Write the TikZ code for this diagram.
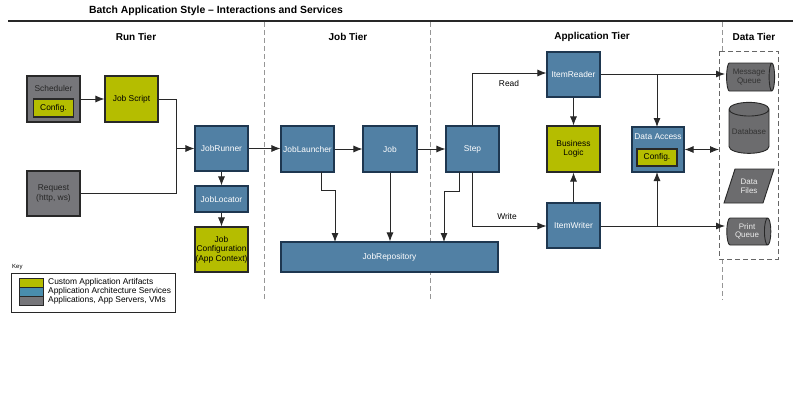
\documentclass[tikz,border=0pt]{standalone}
\usepackage{fontspec}
\setmainfont{Liberation Sans}
\usetikzlibrary{arrows.meta,shapes.geometric}
\definecolor{cblue}{RGB}{81,128,164}
\definecolor{cblueb}{RGB}{30,55,80}
\definecolor{cgreen}{RGB}{181,189,0}
\definecolor{cgray}{RGB}{118,118,122}
\definecolor{dgray}{RGB}{108,108,110}
\definecolor{cline}{RGB}{40,40,40}
\definecolor{cdash}{RGB}{150,150,150}
\tikzset{
  box/.style={draw=cline, line width=1.1pt, inner sep=0pt, align=center, font=\fontsize{8.4}{9.4}\selectfont},
  bluebox/.style={box, fill=cblue, draw=cblueb, text=white},
  greenbox/.style={box, fill=cgreen},
  graybox/.style={box, fill=cgray, text=black!85},
  conn/.style={draw=cline, line width=0.9pt},
  arr/.style={conn, -{Latex[length=9pt,width=7pt]}},
  darr/.style={conn, {Latex[length=9pt,width=7pt]}-{Latex[length=9pt,width=7pt]}},
  tierline/.style={draw=cdash, line width=0.9pt, dash pattern=on 5pt off 3pt},
  header/.style={font=\fontsize{10}{12}\selectfont\bfseries},
  lbl/.style={font=\fontsize{8.4}{9.4}\selectfont, inner sep=0pt},
  datashape/.style={draw=cline, line width=0.9pt, fill=dgray, inner sep=0pt, align=center, font=\fontsize{8}{8.6}\selectfont},
}
\begin{document}
\begin{tikzpicture}[x=1pt,y=-1pt]
\useasboundingbox (0,0) rectangle (800,413);
\fill[white] (0,0) rectangle (800,413);
% title and frame lines
\node[font=\fontsize{10.4}{12}\selectfont\bfseries] (title) at (216,11) {Batch Application Style -- Interactions and Services};
\draw[cline, line width=1.6pt] (8,21) -- (793,21);
\draw[tierline] (264.5,22) -- (264.5,300);
\draw[tierline] (430,22) -- (430,300);
\draw[tierline] (722.5,22) -- (722.5,51);
\draw[tierline] (722.5,259) -- (722.5,300);
\node[header] (hrun) at (136,37) {Run Tier};
\node[header] (hjob) at (348,37) {Job Tier};
\node[header] (happ) at (592,37) {Application Tier};
\node[header] (hdata) at (754,37) {Data Tier};

% Run tier
\node[graybox, minimum width=53pt, minimum height=46pt] (sched) at (53.5,99) {};
\node[lbl, text=black!85] (schedlbl) at (53.5,88) {Scheduler};
\node[greenbox, minimum width=40pt, minimum height=18pt] (schedcfg) at (53.5,108) {Config.};
\node[greenbox, minimum width=53pt, minimum height=46pt] (jobscript) at (131.5,99) {Job Script};
\node[graybox, minimum width=53pt, minimum height=45pt] (request) at (53.5,193.5) {Request\\(http, ws)};
\node[bluebox, minimum width=53pt, minimum height=45pt] (jobrunner) at (221.5,148.5) {JobRunner};
\node[bluebox, minimum width=53pt, minimum height=26pt] (joblocator) at (221.5,199) {JobLocator};
\node[greenbox, minimum width=53pt, minimum height=45pt] (jobconfig) at (221.5,249.5) {Job\\Configuration\\(App Context)};

% Job tier
\node[bluebox, minimum width=53pt, minimum height=46pt] (launcher) at (307.5,149) {JobLauncher};
\node[bluebox, minimum width=54pt, minimum height=46pt] (job) at (390,149) {Job};
\node[bluebox, minimum width=53pt, minimum height=46pt] (step) at (472.5,149) {Step};
\node[bluebox, minimum width=217pt, minimum height=30pt] (repo) at (389.5,257) {JobRepository};

% Application tier
\node[bluebox, minimum width=53pt, minimum height=45pt] (reader) at (573.5,74.5) {ItemReader};
\node[greenbox, minimum width=53pt, minimum height=46pt] (logic) at (573.5,149) {Business\\Logic};
\node[bluebox, minimum width=53pt, minimum height=45pt] (writer) at (573.5,225.5) {ItemWriter};
\node[bluebox, minimum width=52pt, minimum height=45pt] (dataacc) at (658,149.5) {};
\node[lbl, text=white] (dataacclbl) at (658,137) {Data Access};
\node[greenbox, minimum width=40pt, minimum height=17pt] (dacfg) at (657,157.5) {Config.};

% Data tier
\draw[draw=black!60, line width=0.9pt, dash pattern=on 5pt off 3pt] (719,51) rectangle (778,259);
\node[datashape, cylinder, shape aspect=0.35, minimum height=48pt, minimum width=28pt, text=black!80] (mq) at (749,77) {Message\\Queue};
\node[datashape, cylinder, shape border rotate=90, shape aspect=0.4, minimum height=51pt, minimum width=40pt, text=black!80] (db) at (749,131.5) {Database};
\draw[cline, line width=0.9pt, fill=dgray] (735,169) -- (774,169) -- (763,203) -- (724,203) -- cycle;
\node[lbl, align=center, font=\fontsize{8}{8.6}\selectfont, text=white!85!gray] (files) at (749,186) {Data\\Files};
\node[datashape, cylinder, shape aspect=0.4, minimum height=44pt, minimum width=27pt, text=white!85!gray] (pq) at (747,231.5) {Print\\Queue};
\coordinate (dtleft) at (719,149.5);
\coordinate (mqin) at (725,74);
\coordinate (pqin) at (725,226);

% connectors
\draw[arr] (sched.east |- 0,99) -- (jobscript.west |- 0,99);
\draw[arr] (jobscript.east |- 0,99) -- (176,99) -- (176,148.5) -- (jobrunner.west);
\draw[conn] (request.east |- 0,193.5) -- (176,193.5) -- (176,148.5);
\draw[arr] (jobrunner.south) -- (joblocator.north);
\draw[arr] (joblocator.south) -- (jobconfig.north);
\draw[arr] (jobrunner.east) -- (launcher.west |- jobrunner.east);
\draw[arr] (launcher.east) -- (job.west);
\draw[arr] (job.east) -- (step.west);
\draw[arr] (321,172) -- (321,190) -- (335,190) -- (335,242);
\draw[arr] (job.south) -- (job.south |- repo.north);
\draw[arr] (459,172) -- (459,191) -- (444,191) -- (444,242);
\draw[arr] (472,126) -- (472,73) -- (reader.west |- 0,73);
\draw[arr] (472,172) -- (472,226) -- (writer.west |- 0,226);
\node[lbl] (readlbl) at (509,83) {Read};
\node[lbl] (writelbl) at (507,216) {Write};
\draw[arr] (reader.south) -- (logic.north);
\draw[arr] (writer.north) -- (logic.south);
\draw[arr] (reader.east |- mqin) -- (mqin);
\draw[arr] (657,74) -- (657 ,127);
\draw[arr] (writer.east |- pqin) -- (pqin);
\draw[arr] (657,226) -- (657,172);
\draw[darr] (dataacc.east |- dtleft) -- (dtleft);

% Key
\node[anchor=west, font=\fontsize{6}{7}\selectfont, inner sep=0pt] (keylbl) at (12,267) {Key};
\draw[cline, line width=0.9pt] (11,273) rectangle (175,312);
\draw[cline, line width=0.8pt, fill=cgreen] (19,278) rectangle (43,287);
\draw[cline, line width=0.8pt, fill=cblue!90!cyan] (19,287) rectangle (43,296);
\draw[cline, line width=0.8pt, fill=cgray] (19,296) rectangle (43,305);
\node[lbl, anchor=west] (k1) at (48,282.5) {Custom Application Artifacts};
\node[lbl, anchor=west] (k2) at (48,291.5) {Application Architecture Services};
\node[lbl, anchor=west] (k3) at (48,300.5) {Applications, App Servers, VMs};
\end{tikzpicture}
\end{document}
